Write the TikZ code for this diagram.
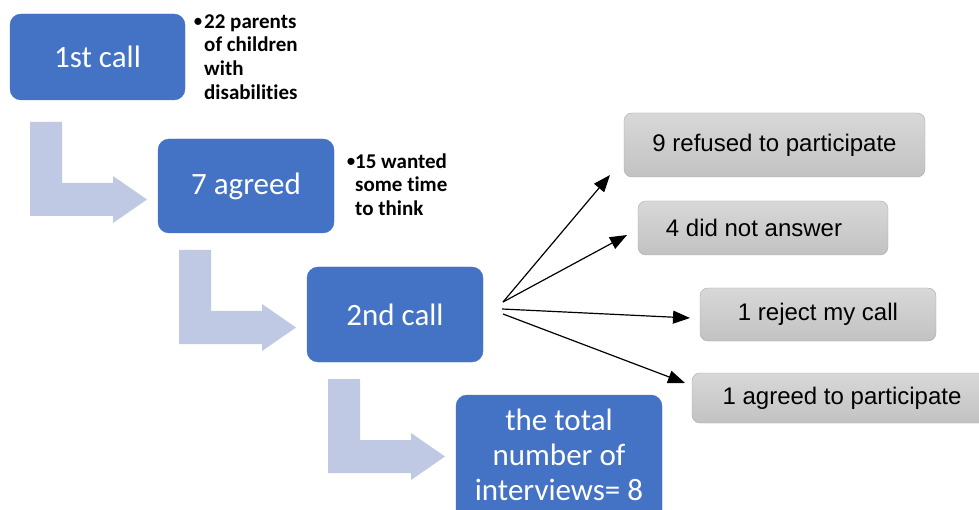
\documentclass[tikz,border=0pt]{standalone}
\usepackage{fontspec}
\setmainfont{Carlito}[Ligatures={NoCommon}]
\newfontfamily\outcomefont{Liberation Sans}
\usetikzlibrary{arrows.meta}

\definecolor{stepblue}{HTML}{4472C4}
\definecolor{bendfill}{HTML}{C0C9E4}
\definecolor{greytop}{HTML}{D8D8D8}
\definecolor{greybot}{HTML}{C2C2C2}
\definecolor{greyline}{HTML}{A8A8A8}

\begin{document}
\begin{tikzpicture}[x=1pt,y=-1pt,
  stepbox/.style={draw=stepblue, fill=stepblue, rounded corners=11pt,
    text=white, font=\fontsize{31}{35}\selectfont, align=center, inner sep=0pt},
  outcome/.style={draw=greyline, top color=greytop, bottom color=greybot,
    rounded corners=8pt, font=\outcomefont\fontsize{24}{28}\selectfont, inner sep=0pt},
  note/.style={font=\bfseries\fontsize{21}{23.7}\selectfont, align=left,
    inner sep=0pt, anchor=north west},
  dot/.style={font=\fontsize{20}{23.7}\selectfont, inner sep=0pt, anchor=base west},
  bentarrow/.style={fill=bendfill, draw=none},
  link/.style={-{Triangle[length=17pt,width=13pt]}, line width=1.2pt}]

\useasboundingbox (0,0) rectangle (979,510);
\clip (0,0) rectangle (979,510);

% bent arrows leading from one step to the next
\foreach \dx/\dy in {0/0, 149/128, 298/257} {
  \fill[bentarrow, shift={(\dx,\dy)}] (30,122) -- (62,122) -- (62,183) -- (113,183)
    -- (113,176) -- (147,199.5) -- (113,223) -- (113,216) -- (30,216) -- cycle;
}

% steps
\node[stepbox, minimum width=175pt, minimum height=86pt] (call1) at (97.5,57) {1st call};
\node[stepbox, minimum width=176pt, minimum height=94pt] (agreed) at (246,186) {7 agreed};
\node[stepbox, minimum width=176pt, minimum height=95pt] (call2) at (395,314.5) {2nd call};
\node[stepbox, minimum width=206pt, minimum height=126pt] (total) at (559,458)
  {\strut the total\\ \strut number of\\ \strut interviews= 8};

% side notes
\node[dot] (dotA) at (193,28) {•};
\node[note] (noteA) at (204,11.41) {\strut 22 parents\\of children\\with\\disabilities};
\node[dot] (dotB) at (346,168) {•};
\node[note] (noteB) at (355,151.41) {\strut 15 wanted\\some time\\to think};

% outcomes of the second call
\node[outcome, minimum width=301pt, minimum height=64pt] (refused) at (774.5,145) {9 refused to participate};
\node[outcome, minimum width=250pt, minimum height=54pt] (noanswer) at (763,228) {4 did not answer\hspace*{18pt}};
\node[outcome, minimum width=236pt, minimum height=53pt] (rejected) at (818,314.5) {1 reject my call};
\node[outcome, minimum width=300pt, minimum height=50pt] (joined) at (842,398) {1 agreed to participate};

% fan of connectors
\coordinate (fanA) at (503,302);
\coordinate (fanB) at (502,309);
\coordinate (fanC) at (503,314);
\coordinate (toRefused) at (610,175);
\coordinate (toNoanswer) at (627,235);
\coordinate (toRejected) at (690,318);
\coordinate (toJoined) at (685,383);

\draw[link] (fanA) -- (toRefused);
\draw[link] (fanA) -- (toNoanswer);
\draw[link] (fanB) -- (toRejected);
\draw[link] (fanC) -- (toJoined);
\end{tikzpicture}
\end{document}
